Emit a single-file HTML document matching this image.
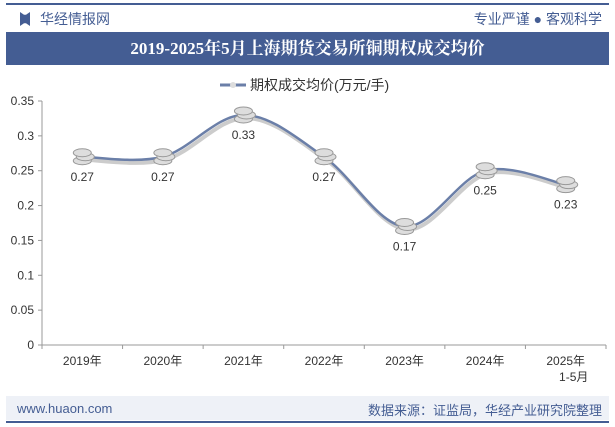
<!DOCTYPE html>
<html><head><meta charset="utf-8"><style>
body{margin:0;width:615px;height:427px;background:#fff;font-family:"Liberation Sans","Noto Sans CJK SC",sans-serif;overflow:hidden;position:relative}
.abs{position:absolute}
</style></head><body>
<div class="abs" style="left:6px;top:3px;width:603px;height:2px;background:#445d93"></div>
<div class="abs" style="left:20px;top:12px;width:10px;height:14px;background:#445d93;clip-path:polygon(0 0,40% 20%,60% 20%,100% 0,100% 100%,60% 80%,40% 80%,0 100%)"></div>
<div class="abs" style="left:40px;top:9px;font-size:14px;color:#445d93">华经情报网</div>
<div class="abs" style="right:13px;top:9px;font-size:14px;color:#445d93">专业严谨 ● 客观科学</div>
<div class="abs" style="left:6px;top:32px;width:603px;height:33px;background:#445d93;color:#fff;font-family:'Liberation Serif','Noto Serif CJK SC',serif;font-weight:bold;font-size:17px;line-height:33px;text-align:center">2019-2025年5月上海期货交易所铜期权成交均价</div>
<svg class="abs" style="left:0;top:0" width="615" height="427">
<g id="g"></g>
</svg>
<div class="abs" style="left:6px;top:396px;width:603px;height:24px;background:#eef1f7"></div>
<div class="abs" style="left:17px;top:401px;font-size:13px;color:#445d93">www.huaon.com</div>
<div class="abs" style="right:13px;top:400px;font-size:13px;color:#445d93">数据来源：证监局，华经产业研究院整理</div>
<div class="abs" style="left:6px;top:421px;width:603px;height:2px;background:#445d93"></div>
<script>
const categories=["2019年","2020年","2021年","2022年","2023年","2024年","2025年\n1-5月"];
const values=[0.27,0.27,0.33,0.27,0.17,0.25,0.23];
const yTicks=[0,0.05,0.1,0.15,0.2,0.25,0.3,0.35];
const yTickLabels=["0","0.05","0.1","0.15","0.2","0.25","0.3","0.35"];
const NS="http://www.w3.org/2000/svg",g=document.getElementById('g');
const x0=42,x1=606,y0=345,yTop=101,bw=(x1-x0)/categories.length;
const X=i=>x0+bw*(i+0.5), Y=v=>y0-(v/0.35)*(y0-yTop);
function el(t,a,txt){const e=document.createElementNS(NS,t);for(const k in a)e.setAttribute(k,a[k]);if(txt!=null)e.textContent=txt;g.appendChild(e);return e;}
let e=el('line',{x1:x0,y1:y0,x2:x1,y2:y0,stroke:'#999'});

e=el('line',{x1:x0,y1:y0,x2:x0,y2:yTop,stroke:'#999'});

yTicks.forEach((v,i)=>{el('line',{x1:x0-4,y1:Y(v),x2:x0,y2:Y(v),stroke:'#999'});
const t=el('text',{x:x0-8,y:Y(v)+4,'text-anchor':'end','font-size':12,fill:'#333'},yTickLabels[i]);
});
for(let i=0;i<=categories.length;i++)el('line',{x1:x0+bw*i,y1:y0,x2:x0+bw*i,y2:y0+4,stroke:'#999'});
categories.forEach((c,i)=>{c.split('\n').forEach((s,j)=>{const t=el('text',{x:X(i)+(j?8:0),y:y0+20+j*16,'text-anchor':'middle','font-size':12,fill:'#333'},s);
});});
const pts=values.map((v,i)=>[X(i),Y(v)]);
let d='M'+pts[0];
for(let i=0;i<pts.length-1;i++){const p0=pts[Math.max(i-1,0)],p1=pts[i],p2=pts[i+1],p3=pts[Math.min(i+2,pts.length-1)];
d+=` C${p1[0]+(p2[0]-p0[0])/6},${p1[1]+(p2[1]-p0[1])/6} ${p2[0]-(p3[0]-p1[0])/6},${p2[1]-(p3[1]-p1[1])/6} ${p2[0]},${p2[1]}`;}
e=el('path',{d:d,fill:'none',stroke:'#ccc','stroke-width':4,transform:'translate(2,3)'});
e=el('path',{d:d,fill:'none',stroke:'#6b7fa8','stroke-width':2.5});

pts.forEach((p,i)=>{for(let k=2;k>=0;k--){el('ellipse',{cx:p[0]+(k==1?3:0),cy:p[1]-4+k*4,rx:9,ry:4,fill:'#ddd',stroke:'#999','stroke-width':1});}
const t=el('text',{x:p[0],y:p[1]+24,'text-anchor':'middle','font-size':12,fill:'#333'},values[i].toFixed(2));
});
e=el('line',{x1:220,y1:85,x2:246,y2:85,stroke:'#6b7fa8','stroke-width':3});

el('circle',{cx:233,cy:85,r:3,fill:'#ddd'});
e=el('text',{x:250,y:90,'font-size':14,fill:'#333'},'期权成交均价(万元/手)');

</script>
</body></html>
